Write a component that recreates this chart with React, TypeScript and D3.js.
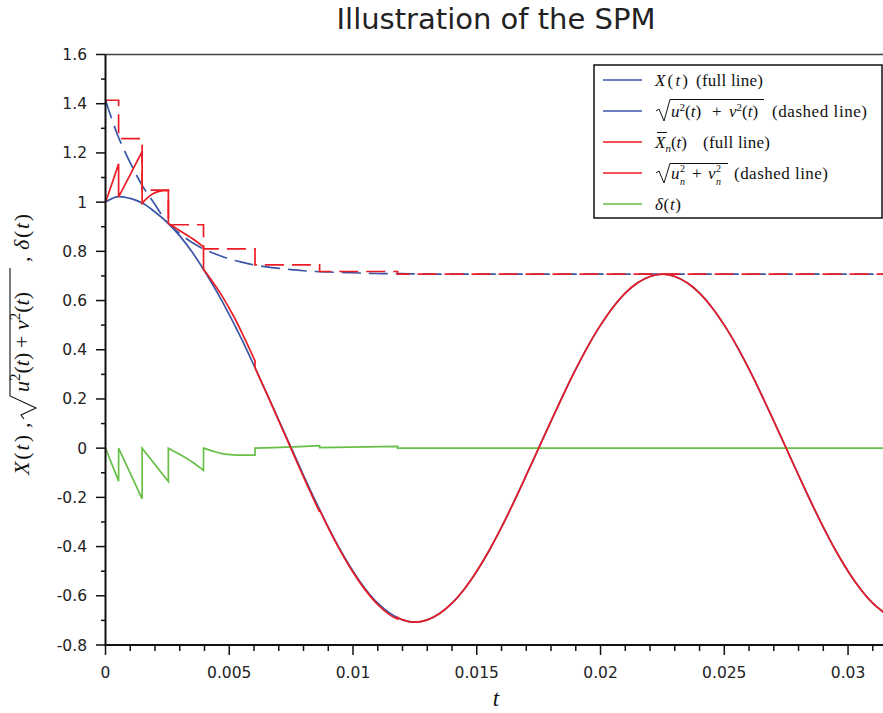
import React from 'react';
import * as d3 from 'd3';

const W = 883;
const H = 713;

// time grid for the continuous curves (every 0.0005 s)
const tGrid: number[] = d3.range(0, 0.03151, 0.0005);

// X(t) at each grid time
const xValues: number[] = [
  1.0, 1.022, 1.015, 0.995, 0.96, 0.917, 0.863, 0.797, 0.72, 0.635,
  0.543, 0.443, 0.336, 0.226, 0.114, 0.002, -0.11, -0.218, -0.321, -0.416,
  -0.5, -0.572, -0.63, -0.672, -0.698, -0.707, -0.698, -0.672, -0.63, -0.572,
  -0.5, -0.416, -0.321, -0.218, -0.11, 0.0, 0.11, 0.218, 0.321, 0.416,
  0.5, 0.572, 0.63, 0.672, 0.698, 0.707, 0.698, 0.672, 0.63, 0.572,
  0.5, 0.416, 0.321, 0.218, 0.11, 0.0, -0.11, -0.218, -0.321, -0.416,
  -0.5, -0.572, -0.63, -0.672,
];

// sqrt(u^2(t)+v^2(t)) read at each grid time
const envelopeValues: number[] = [
  1.414, 1.27, 1.16, 1.065, 0.99, 0.917, 0.872, 0.836, 0.808, 0.787,
  0.769, 0.756, 0.745, 0.737, 0.731, 0.726, 0.721, 0.718, 0.716, 0.714,
  0.713, 0.711, 0.71, 0.709, 0.709, 0.708, 0.708, 0.707, 0.707, 0.707,
  0.707, 0.707, 0.707, 0.707, 0.707, 0.707, 0.707, 0.707, 0.707, 0.707,
  0.707, 0.707, 0.707, 0.707, 0.707, 0.707, 0.707, 0.707, 0.707, 0.707,
  0.707, 0.707, 0.707, 0.707, 0.707, 0.707, 0.707, 0.707, 0.707, 0.707,
  0.707, 0.707, 0.707, 0.707,
];

// sampling instants of the SPM and the step values sqrt(u_n^2+v_n^2)
const stepTimes: number[] = [0, 0.00053, 0.00148, 0.00254, 0.00396, 0.00604, 0.00865, 0.0118];
const stepNorms: number[] = [1.414, 1.258, 1.049, 0.908, 0.81, 0.745, 0.718, 0.707];

// X̄_n(t) for the first five intervals
const redSegments: [number, number][][] = [
  [[0, 1.0], [0.00027, 1.078], [0.00053, 1.156]],
  [[0.00053, 1.021], [0.001, 1.112], [0.00148, 1.205]],
  [[0.00148, 0.995], [0.00167, 1.015], [0.00193, 1.035], [0.0022, 1.045], [0.00254, 1.048]],
  [[0.00254, 0.913], [0.00294, 0.888], [0.00349, 0.853], [0.00396, 0.818]],
  [[0.00396, 0.727], [0.0043, 0.68], [0.0047, 0.62], [0.0052, 0.532], [0.0056, 0.45], [0.00604, 0.355]],
];

// δ(t) per interval
const deltaSegments: [number, number][][] = [
  [[0, 0], [0.00053, -0.134]],
  [[0.00053, 0], [0.00148, -0.206]],
  [[0.00148, 0], [0.00254, -0.136]],
  [[0.00254, 0], [0.0029, -0.02], [0.0035, -0.056], [0.00396, -0.09]],
  [[0.00396, 0], [0.0043, -0.011], [0.0047, -0.022], [0.0052, -0.027], [0.0056, -0.028], [0.00604, -0.028]],
  [[0.00604, 0], [0.0073, 0.004], [0.00865, 0.01]],
  [[0.00865, 0.002], [0.0118, 0.007]],
  [[0.0118, 0], [0.0315, 0]],
];

const xTicks: number[] = [0, 0.005, 0.01, 0.015, 0.02, 0.025, 0.03];
const xTickLabels: string[] = ['0', '0.005', '0.01', '0.015', '0.02', '0.025', '0.03'];
const yTicks: number[] = [1.6, 1.4, 1.2, 1, 0.8, 0.6, 0.4, 0.2, 0, -0.2, -0.4, -0.6, -0.8];
const yTickLabels: string[] = ['1.6', '1.4', '1.2', '1', '0.8', '0.6', '0.4', '0.2', '0', '-0.2', '-0.4', '-0.6', '-0.8'];

const BLUE = '#3a56a5';
const RED = '#ec1c24';
const GREEN = '#68bf48';
const T_MAX = 0.0314;

const x = d3.scaleLinear().domain([0, T_MAX]).range([105.5, 882.7]);
const y = d3.scaleLinear().domain([-0.8, 1.6]).range([645, 54.5]);

function interp(pts: [number, number][], t: number): number {
  for (let i = 0; i < pts.length - 1; i++) {
    const [t0, v0] = pts[i];
    const [t1, v1] = pts[i + 1];
    if (t >= t0 && t <= t1) return v0 + ((v1 - v0) * (t - t0)) / (t1 - t0 || 1);
  }
  return pts[pts.length - 1][1];
}

const xPts: [number, number][] = tGrid.map((t, i) => [t, xValues[i]]);
const envPts: [number, number][] = tGrid.map((t, i) => [t, envelopeValues[i]]);

// X̄_n(t) after t5: follows X(t) - δ(t)
const tailSegments: [number, number][][] = [];
for (let k = 5; k < stepTimes.length; k++) {
  const t0 = stepTimes[k];
  const t1 = k + 1 < stepTimes.length ? stepTimes[k + 1] : 0.0315;
  const ts = [t0, ...tGrid.filter((t) => t > t0 + 1e-6 && t < t1 - 1e-6), t1];
  tailSegments.push(ts.map((t) => [t, interp(xPts, t) - interp(deltaSegments[k], t)] as [number, number]));
}
const allRed = [...redSegments, ...tailSegments];

const line = (curve: d3.CurveFactory) =>
  d3
    .line<[number, number]>()
    .x((d) => x(d[0]))
    .y((d) => y(d[1]))
    .curve(curve);

function segPath(segs: [number, number][][], curve: d3.CurveFactory): string {
  const l = line(curve);
  return segs
    .map((s, i) => {
      const d = l(s) || '';
      return i === 0 ? d : 'L' + d.slice(1);
    })
    .join('');
}

const stepPts: [number, number][] = [
  ...stepTimes.map((t, i) => [t, stepNorms[i]] as [number, number]),
  [0.0315, stepNorms[stepNorms.length - 1]],
];

const xMinor = d3.range(0, 0.0314, 0.001).filter((t) => Math.abs(t / 0.005 - Math.round(t / 0.005)) > 1e-6);
const yMinor = d3.range(-0.7, 1.6, 0.2);

const serif = '"Liberation Serif", "DejaVu Serif", serif';
const sans = '"DejaVu Sans", sans-serif';

export default function App() {
  const dash = '19,8';
  return (
    <svg
      width={W}
      height={H}
      viewBox={`0 0 ${W} ${H}`}
      style={{ position: 'absolute', left: 0, top: 0, background: '#fff' }}
    >
      <rect x={0} y={0} width={W} height={H} fill="#fff" />
      <defs>
        <clipPath id="plot">
          <rect x={105.5} y={50} width={W - 105.5} height={595} />
        </clipPath>
      </defs>

      {/* title */}
      <text x={496} y={29} textAnchor="middle" fontFamily={sans} fontSize={29} fill="#222">
        Illustration of the SPM
      </text>

      {/* frame top */}
      <line x1={105.5} x2={W} y1={54.5} y2={54.5} stroke="#444" strokeWidth={1.5} />

      {/* curves */}
      <g clipPath="url(#plot)" fill="none" strokeWidth={1.7}>
        <path d={line(d3.curveCatmullRom)(xPts) || ''} stroke={BLUE} />
        <path d={line(d3.curveCatmullRom)(envPts) || ''} stroke={BLUE} strokeDasharray={dash} />
        <path d={segPath(deltaSegments, d3.curveCatmullRom)} stroke={GREEN} />
        <path d={segPath(allRed, d3.curveCatmullRom)} stroke={RED} />
        <path d={line(d3.curveStepAfter)(stepPts) || ''} stroke={RED} strokeDasharray={dash} />
      </g>

      {/* axes */}
      <line x1={105.5} x2={105.5} y1={54.5} y2={646} stroke="#111" strokeWidth={2} />
      <line x1={104.5} x2={W} y1={645} y2={645} stroke="#111" strokeWidth={2} />

      {yTicks.map((v, i) => (
        <g key={'yt' + i}>
          <line x1={96} x2={105.5} y1={y(v)} y2={y(v)} stroke="#111" strokeWidth={1.5} />
          <text x={87} y={y(v) + 5.5} textAnchor="end" fontFamily={sans} fontSize={15.5} fill="#222">
            {yTickLabels[i]}
          </text>
        </g>
      ))}
      {yMinor.map((v, i) => (
        <line key={'ym' + i} x1={101} x2={105.5} y1={y(v)} y2={y(v)} stroke="#111" strokeWidth={1.5} />
      ))}
      {xTicks.map((v, i) => (
        <g key={'xt' + i}>
          <line x1={x(v)} x2={x(v)} y1={645} y2={655} stroke="#111" strokeWidth={1.5} />
          <text x={x(v)} y={678} textAnchor="middle" fontFamily={sans} fontSize={15.5} fill="#222">
            {xTickLabels[i]}
          </text>
        </g>
      ))}
      {xMinor.map((v, i) => (
        <line key={'xm' + i} x1={x(v)} x2={x(v)} y1={645} y2={651} stroke="#111" strokeWidth={1.5} />
      ))}

      {/* x label */}
      <text x={496} y={706} textAnchor="middle" fontFamily={serif} fontStyle="italic" fontSize={23} fill="#111">
        t
      </text>

      {/* y label */}
      <g transform="translate(29,0) rotate(-90)" fontFamily={serif} fontSize={22} fill="#111">
        <text x={-475} y={0} textLength={40} lengthAdjust="spacing">
          <tspan fontStyle="italic">X</tspan>(<tspan fontStyle="italic">t</tspan>)
        </text>
        <text x={-428} y={0}>,</text>
        <path d="M-419,-5 L-415,-8 L-408,7 L-396,-19 L-268,-19" fill="none" stroke="#111" strokeWidth={1.1} />
        <text x={-392} y={0}>
          <tspan fontStyle="italic">u</tspan>
          <tspan fontSize={15} dy={-9}>2</tspan>
          <tspan dy={9}>(</tspan>
          <tspan fontStyle="italic">t</tspan>)
        </text>
        <text x={-348} y={0}>+</text>
        <text x={-330} y={0}>
          <tspan fontStyle="italic">v</tspan>
          <tspan fontSize={15} dy={-9}>2</tspan>
          <tspan dy={9}>(</tspan>
          <tspan fontStyle="italic">t</tspan>)
        </text>
        <text x={-262} y={0}>,</text>
        <text x={-250} y={0} textLength={36} lengthAdjust="spacing">
          <tspan fontStyle="italic">δ</tspan>(<tspan fontStyle="italic">t</tspan>)
        </text>
      </g>

      {/* legend */}
      <g>
        <rect x={594} y={65} width={288} height={153} fill="#fff" stroke="#111" strokeWidth={1.5} />
        {[BLUE, BLUE, RED, RED, GREEN].map((c, i) => (
          <line key={'lg' + i} x1={603} x2={642} y1={80 + i * 31} y2={80 + i * 31} stroke={c} strokeWidth={1.6} />
        ))}
        <g fontFamily={serif} fontSize={17} fill="#111">
          {/* row 1 */}
          <text x={655} y={86} textLength={33} lengthAdjust="spacing">
            <tspan fontStyle="italic">X</tspan>(<tspan fontStyle="italic">t</tspan>)
          </text>
          <text x={696} y={86} textLength={67} lengthAdjust="spacing">(full line)</text>
          {/* row 2 */}
          <path d="M656,111 L659,109 L664,121 L670,99.5 L764,99.5" fill="none" stroke="#111" strokeWidth={1} />
          <text x={671} y={117}>
            <tspan fontStyle="italic">u</tspan>
            <tspan fontSize={11} dy={-6}>2</tspan>
            <tspan dy={6}>(</tspan>
            <tspan fontStyle="italic">t</tspan>)
          </text>
          <text x={712} y={117}>+</text>
          <text x={729} y={117}>
            <tspan fontStyle="italic">v</tspan>
            <tspan fontSize={11} dy={-6}>2</tspan>
            <tspan dy={6}>(</tspan>
            <tspan fontStyle="italic">t</tspan>)
          </text>
          <text x={772} y={117} textLength={95} lengthAdjust="spacing">(dashed line)</text>
          {/* row 3 */}
          <line x1={657} x2={667} y1={132.5} y2={132.5} stroke="#111" strokeWidth={1} />
          <text x={655} y={148}>
            <tspan fontStyle="italic">X</tspan>
            <tspan fontStyle="italic" fontSize={11} dy={4}>n</tspan>
            <tspan dy={-4}>(</tspan>
            <tspan fontStyle="italic">t</tspan>)
          </text>
          <text x={703} y={148} textLength={67} lengthAdjust="spacing">(full line)</text>
          {/* row 4 */}
          <path d="M656,173 L659,171 L664,183 L670,163.5 L728,163.5" fill="none" stroke="#111" strokeWidth={1} />
          <text x={671} y={179}>
            <tspan fontStyle="italic">u</tspan>
          </text>
          <text x={680} y={171.5} fontSize={10}>2</text>
          <text x={680} y={184.5} fontSize={10} fontStyle="italic">n</text>
          <text x={692} y={179}>+</text>
          <text x={708} y={179}>
            <tspan fontStyle="italic">v</tspan>
          </text>
          <text x={716} y={171.5} fontSize={10}>2</text>
          <text x={716} y={184.5} fontSize={10} fontStyle="italic">n</text>
          <text x={734} y={179} textLength={94} lengthAdjust="spacing">(dashed line)</text>
          {/* row 5 */}
          <text x={655} y={210} textLength={26} lengthAdjust="spacing">
            <tspan fontStyle="italic">δ</tspan>(<tspan fontStyle="italic">t</tspan>)
          </text>
        </g>
      </g>
    </svg>
  );
}
